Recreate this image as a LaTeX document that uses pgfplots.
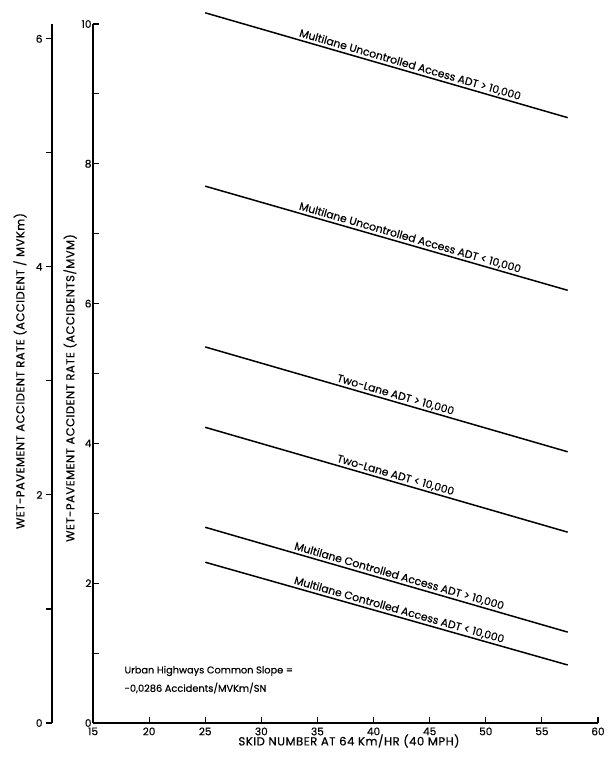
\documentclass[border=0pt]{standalone}
\usepackage{fontspec}
\setmainfont{Poppins}[FakeBold=0.5]
\newfontfamily\lblfont{Poppins}[FakeBold=0.5, LetterSpace=4]
\usepackage{pgfplots}
\pgfplotsset{compat=1.18}
\begin{document}
\begin{tikzpicture}[x=1pt,y=1pt]
\useasboundingbox (-93,-37) rectangle (518,723);
\tikzset{linelbl/.style={sloped, above, inner sep=1.2pt, font=\fontsize{10.8}{12}\selectfont}}
\begin{axis}[at={(0,0)}, anchor=south west, scale only axis, width=505pt, height=699pt,
  xmin=15, xmax=60, ymin=0, ymax=10, clip=false,
  axis x line*=bottom, axis y line*=left,
  axis line style={line width=1.3pt, black},
  xtick={15,20,...,60}, ytick={0,2,...,10}, minor ytick={1,3,...,9},
  tick align=inside, major tick length=6pt, minor tick length=6pt,
  every tick/.style={line width=1.1pt, black},
  /pgf/number format/assume math mode=true,
  tick label style={font=\fontsize{10.5}{12}\selectfont},
  xticklabel style={yshift=-1pt},
  yticklabel style={xshift=2pt},
]
\addplot[line width=1.5pt, black] coordinates {(25,10.16) (57.3,8.66)}
  node[pos=0.56, linelbl] {Multilane Uncontrolled Access ADT > 10,000};
\addplot[line width=1.5pt, black] coordinates {(25,7.68) (57.3,6.19)}
  node[pos=0.56, linelbl] {Multilane Uncontrolled Access ADT < 10,000};
\addplot[line width=1.5pt, black] coordinates {(25,5.38) (57.3,3.88)}
  node[pos=0.52, linelbl] {Two-Lane ADT > 10,000};
\addplot[line width=1.5pt, black] coordinates {(25,4.23) (57.3,2.73)}
  node[pos=0.52, linelbl] {Two-Lane ADT < 10,000};
\addplot[line width=1.5pt, black] coordinates {(25,2.80) (57.3,1.30)}
  node[pos=0.53, linelbl] {Multilane Controlled Access ADT > 10,000};
\addplot[line width=1.5pt, black] coordinates {(25,2.30) (57.3,0.83)}
  node[pos=0.53, linelbl] {Multilane Controlled Access ADT < 10,000};
\end{axis}
\begin{axis}[at={(-41pt,0)}, anchor=south west, scale only axis, width=10pt, height=699pt,
  xmin=0, xmax=1, ymin=0, ymax=6.13,
  hide x axis, axis y line*=left,
  axis line style={line width=1.3pt, black},
  ytick={0,2,4,6}, minor ytick={1,3,5},
  tick align=outside, major tick length=6pt, minor tick length=6pt,
  every tick/.style={line width=1.1pt, black},
  /pgf/number format/assume math mode=true,
  tick label style={font=\fontsize{10.5}{12}\selectfont},
]
\addplot[draw=none] coordinates {(0,0)};
\end{axis}
\node[font=\lblfont\fontsize{11.7}{13}\selectfont] at (256,-18) {SKID NUMBER AT 64 Km/HR (40 MPH)};
\node[rotate=90, font=\lblfont\fontsize{11.6}{13}\selectfont] at (-73,352) {WET-PAVEMENT ACCIDENT RATE (ACCIDENT / MVKm)};
\node[rotate=90, font=\lblfont\fontsize{11.6}{13}\selectfont] at (-23,335) {WET-PAVEMENT ACCIDENT RATE (ACCIDENTS/MVM)};
\node[anchor=west, font=\fontsize{9.8}{11}\selectfont] at (28,52) {Urban Highways Common Slope =};
\node[anchor=west, font=\fontsize{9.8}{11}\selectfont] at (28,35) {-0,0286 Accidents/MVKm/SN};
\end{tikzpicture}
\end{document}
